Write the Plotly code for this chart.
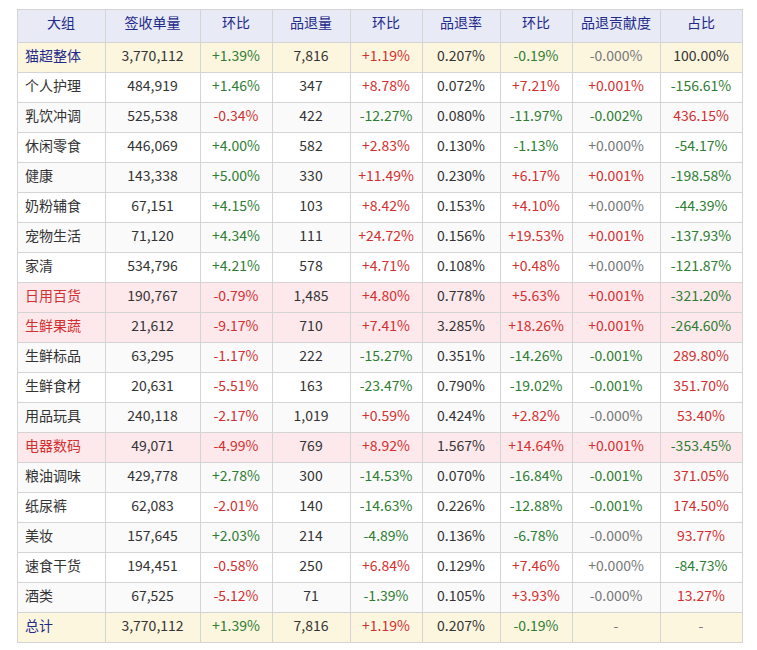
import plotly.graph_objects as go

# column titles
headers = ["大组", "签收单量", "环比", "品退量", "环比", "品退率", "环比", "品退贡献度", "占比"]

groups = ["猫超整体", "个人护理", "乳饮冲调", "休闲零食", "健康", "奶粉辅食", "宠物生活", "家清",
          "日用百货", "生鲜果蔬", "生鲜标品", "生鲜食材", "用品玩具", "电器数码", "粮油调味",
          "纸尿裤", "美妆", "速食干货", "酒类", "总计"]
sign_qty = [3770112, 484919, 525538, 446069, 143338, 67151, 71120, 534796, 190767, 21612,
            63295, 20631, 240118, 49071, 429778, 62083, 157645, 194451, 67525, 3770112]
sign_mom = [1.39, 1.46, -0.34, 4.00, 5.00, 4.15, 4.34, 4.21, -0.79, -9.17,
            -1.17, -5.51, -2.17, -4.99, 2.78, -2.01, 2.03, -0.58, -5.12, 1.39]
return_qty = [7816, 347, 422, 582, 330, 103, 111, 578, 1485, 710,
              222, 163, 1019, 769, 300, 140, 214, 250, 71, 7816]
return_mom = [1.19, 8.78, -12.27, 2.83, 11.49, 8.42, 24.72, 4.71, 4.80, 7.41,
              -15.27, -23.47, 0.59, 8.92, -14.53, -14.63, -4.89, 6.84, -1.39, 1.19]
return_rate = [0.207, 0.072, 0.080, 0.130, 0.230, 0.153, 0.156, 0.108, 0.778, 3.285,
               0.351, 0.790, 0.424, 1.567, 0.070, 0.226, 0.136, 0.129, 0.105, 0.207]
rate_mom = [-0.19, 7.21, -11.97, -1.13, 6.17, 4.10, 19.53, 0.48, 5.63, 18.26,
            -14.26, -19.02, 2.82, 14.64, -16.84, -12.88, -6.78, 7.46, 3.93, -0.19]
contrib = [-0.0, 0.001, -0.002, 0.0, 0.001, 0.0, 0.001, 0.0, 0.001, 0.001,
           -0.001, -0.001, -0.0, 0.001, -0.001, -0.001, -0.0, 0.0, -0.0, None]
share = [100.00, -156.61, 436.15, -54.17, -198.58, -44.39, -137.93, -121.87, -321.20, -264.60,
         289.80, 351.70, 53.40, -353.45, 371.05, 174.50, 93.77, -84.73, 13.27, None]
alert_groups = ["日用百货", "生鲜果蔬", "电器数码"]

RED = "#d32f2f"
GREEN = "#2e7d32"
GREY = "#777777"
DARK = "#333333"
NAVY = "#1f2a8a"

n = len(groups)


def signed_color(v, up_good):
    if v is None or v == 0:
        return GREY
    if (v > 0) == up_good:
        return GREEN
    return RED


# row backgrounds
row_fill = []
for i, g in enumerate(groups):
    if i == 0 or i == n - 1:
        row_fill.append("#fdf6df")
    elif g in alert_groups:
        row_fill.append("#fde9ec")
    elif i % 2 == 0:
        row_fill.append("#fafafa")
    else:
        row_fill.append("#ffffff")

name_color = []
for i, g in enumerate(groups):
    if i == 0 or i == n - 1:
        name_color.append(NAVY)
    elif g in alert_groups:
        name_color.append(RED)
    else:
        name_color.append(DARK)

cols = [
    groups,
    [f"{v:,}" for v in sign_qty],
    [f"{v:+.2f}%" for v in sign_mom],
    [f"{v:,}" for v in return_qty],
    [f"{v:+.2f}%" for v in return_mom],
    [f"{v:.3f}%" for v in return_rate],
    [f"{v:+.2f}%" for v in rate_mom],
    ["-" if v is None else f"{v:+.3f}%" for v in contrib],
    ["-" if v is None else f"{v:.2f}%" for v in share],
]

share_color = []
for i, v in enumerate(share):
    if v is None:
        share_color.append(GREY)
    elif i == 0:
        share_color.append(DARK)
    else:
        share_color.append(GREEN if v < 0 else RED)

font_colors = [
    name_color,
    [DARK] * n,
    [signed_color(v, True) for v in sign_mom],
    [DARK] * n,
    [signed_color(v, False) for v in return_mom],
    [DARK] * n,
    [signed_color(v, False) for v in rate_mom],
    [signed_color(v, False) for v in contrib],
    share_color,
]

fig = go.Figure(go.Table(
    columnwidth=[88, 95, 72, 78, 72, 78, 72, 88, 82],
    header=dict(
        values=headers,
        fill_color="#e8eaf6",
        line=dict(color="#d4d4d4", width=1),
        font=dict(family="Noto Sans CJK SC", size=14, color=NAVY),
        align="center",
        height=33,
    ),
    cells=dict(
        values=cols,
        fill_color=[row_fill] * len(cols),
        line=dict(color="#d4d4d4", width=1),
        font=dict(family="Noto Sans CJK SC", size=14, color=font_colors),
        align=["left"] + ["center"] * 8,
        height=30,
    ),
))

# page body adds 8px, so size the figure to leave the table where it belongs
fig.update_layout(
    width=749,
    height=642,
    margin=dict(l=9, r=15, t=1, b=0),
    paper_bgcolor="white",
)

fig.write_html("out.html")
